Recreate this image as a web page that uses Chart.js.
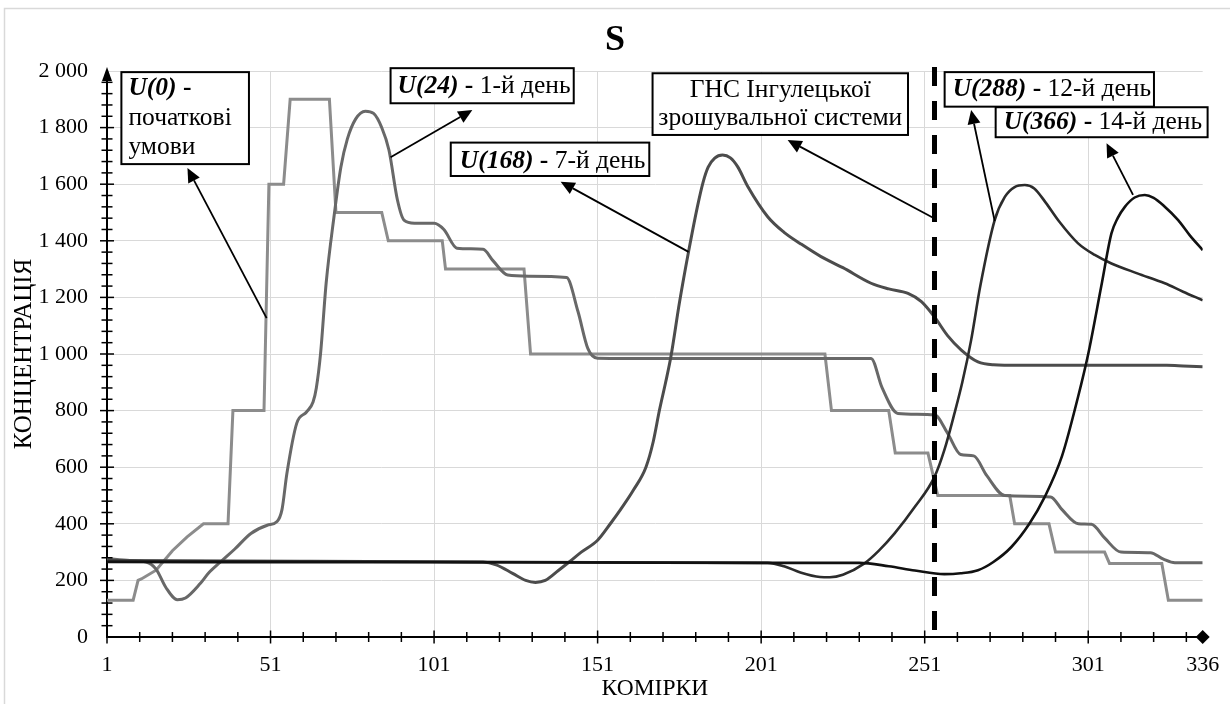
<!DOCTYPE html>
<html>
<head>
<meta charset="utf-8">
<script src="https://cdn.jsdelivr.net/npm/chart.js@4.4.1/dist/chart.umd.min.js"></script>
<style>
  html, body { margin: 0; padding: 0; background: #fff; }
  #wrap { position: relative; width: 1230px; height: 704px; }
</style>
</head>
<body>
<div id="wrap"><canvas id="chart" width="1230" height="704"></canvas></div>
<script>
// cells (x) and concentration (y)
var u0Cells = [1, 9, 10.5, 11.5, 16, 21, 25.5, 30.5, 38, 39.5, 49, 50.5, 55, 57, 69, 71, 85, 87, 103.5, 104.5, 128.5, 130.5, 220.5, 222.5, 240, 242, 252, 255, 277, 278.5, 289, 291, 306, 307.5, 323.5, 325.5, 336];
var u0Values = [130, 130, 200, 205, 236, 305, 354, 400, 400, 800, 800, 1600, 1600, 1900, 1900, 1500, 1500, 1400, 1400, 1300, 1300, 1000, 1000, 800, 800, 650, 650, 500, 500, 400, 400, 300, 300, 260, 260, 130, 130];

var u24Cells = [1, 8, 13, 16, 19, 22.5, 25, 29.5, 32, 35.7, 40, 45, 50, 53, 54.5, 56, 59, 62, 64, 65, 66.3, 68, 70.4, 72.5, 74.5, 77, 80, 82.5, 85, 87.2, 89.8, 91.8, 95, 101, 104, 108, 116, 119, 123.5, 130, 141.5, 145, 148, 151, 160, 234.6, 238, 242.8, 254, 258, 262, 266, 270, 275.5, 289.5, 293, 298, 302, 306, 311, 320, 324, 327.5, 336];
var u24Values = [277, 270, 265, 240, 175, 132, 138, 189, 225, 265, 310, 366, 395, 408, 450, 578, 755, 795, 830, 880, 1002, 1250, 1485, 1660, 1760, 1830, 1858, 1850, 1800, 1721, 1544, 1473, 1462, 1462, 1440, 1374, 1370, 1330, 1279, 1275, 1270, 1150, 1020, 985, 984, 984, 880, 790, 785, 720, 645, 640, 570, 500, 495, 450, 400, 398, 350, 300, 298, 275, 262, 262];

var u168Cells = [1, 60, 116, 120, 125, 129, 132, 135, 139, 142.3, 146, 151, 155, 158, 162, 165.8, 168, 169.9, 171.8, 173.4, 176, 178.8, 181.5, 183.2, 184.8, 186.8, 189.2, 191.6, 193.8, 197, 203, 208, 213, 219.3, 226, 234.6, 240, 245.9, 250, 254, 258, 262.2, 267.3, 272, 280, 325, 330, 336];
var u168Values = [270, 268, 265, 255, 225, 200, 193, 200, 235, 265, 300, 342, 402, 450, 520, 601, 690, 801, 900, 990, 1180, 1361, 1520, 1605, 1660, 1692, 1703, 1693, 1662, 1590, 1485, 1430, 1390, 1344, 1305, 1250, 1230, 1214, 1185, 1131, 1065, 1014, 972, 962, 960, 960, 958, 955];

var u288Cells = [1, 100, 203, 208, 213, 219, 222, 226, 232.6, 237, 241.8, 248, 254, 257, 260.1, 262.5, 265.2, 268, 272.4, 275.5, 278.5, 281.6, 284.5, 288, 292, 297.9, 303, 308.1, 316, 324.4, 330, 336];
var u288Values = [268, 266, 262, 250, 228, 212, 211, 220, 260, 305, 366, 460, 566, 660, 790, 900, 1049, 1240, 1473, 1555, 1590, 1597, 1585, 1535, 1470, 1391, 1350, 1320, 1285, 1250, 1220, 1190];

var u366Cells = [1, 100, 200, 231, 240, 248, 257, 262, 267.3, 272, 277.5, 283, 287.7, 293, 297.9, 301, 305, 308.1, 310, 312.2, 315.2, 318.3, 321, 324, 328.5, 332, 336];
var u366Values = [265, 264, 262, 262, 250, 235, 222, 225, 236, 265, 318, 400, 495, 640, 849, 1000, 1240, 1426, 1480, 1520, 1553, 1562, 1552, 1525, 1473, 1420, 1367];

var xTickLabels = [1, 51, 101, 151, 201, 251, 301, 336];
var gnsCell = 254;   // ГНС Інгулецької зрошувальної системи

var serif = '"Liberation Serif", "Times New Roman", serif';

function pts(cells, values) {
  return cells.map(function(c, i) { return { x: c, y: values[i] }; });
}

function fmtThousands(v) {
  if (v < 1000) return String(v);
  var r = String(v % 1000);
  while (r.length < 3) r = '0' + r;
  return Math.floor(v / 1000) + ' ' + r;
}

// callouts, anchored in data units (cell, concentration)
var callouts = [
  { box: [5.4, 44.4, 1996, 1671], first: 23, gap: 29.5, padX: 7,
    lines: [[{ t: 'U(0)', b: 1, i: 1 }, { t: ' -', b: 1 }], [{ t: 'початкові' }], [{ t: 'умови' }]],
    arrow: [49.8, 1127, 25.6, 1657] },
  { box: [87.7, 143.7, 2010, 1886], first: 25, gap: 0, padX: 7,
    lines: [[{ t: 'U(24)', b: 1, i: 1 }, { t: ' - ', b: 1 }, { t: '1-й день' }]],
    arrow: [87.7, 1695, 112.7, 1862] },
  { box: [106.1, 166.8, 1747, 1629], first: 25, gap: 0, padX: 9,
    lines: [[{ t: 'U(168)', b: 1, i: 1 }, { t: ' - ', b: 1 }, { t: '7-й день' }]],
    arrow: [178.8, 1361, 139.7, 1609] },
  { box: [167.8, 245.9, 1992, 1774], first: 24, gap: 28, center: true,
    lines: [[{ t: 'ГНС Інгулецької' }], [{ t: 'зрошувальної системи' }]],
    arrow: [254, 1479, 209.1, 1756] },
  { box: [257.1, 321.1, 1996, 1874], first: 24, gap: 0, padX: 8,
    lines: [[{ t: 'U(288)', b: 1, i: 1 }, { t: ' - ', b: 1 }, { t: '12-й день' }]],
    arrow: [272.4, 1470, 265.2, 1862] },
  { box: [272.7, 337.5, 1872, 1766], first: 22, gap: 0, padX: 8,
    lines: [[{ t: 'U(366)', b: 1, i: 1 }, { t: ' - ', b: 1 }, { t: '14-й день' }]],
    arrow: [314.7, 1562, 306.6, 1745] }
];

function runFont(r) {
  return (r.i ? 'italic ' : '') + (r.b ? 'bold ' : '') + '25.5px ' + serif;
}

function arrowTo(ctx, x0, y0, x1, y1) {
  var a = Math.atan2(y1 - y0, x1 - x0), len = 14, hw = 6.5;
  var bx = x1 - len * Math.cos(a), by = y1 - len * Math.sin(a);
  ctx.beginPath();
  ctx.moveTo(x0, y0);
  ctx.lineTo(bx, by);
  ctx.stroke();
  ctx.beginPath();
  ctx.moveTo(x1, y1);
  ctx.lineTo(bx + hw * Math.sin(a), by - hw * Math.cos(a));
  ctx.lineTo(bx - hw * Math.sin(a), by + hw * Math.cos(a));
  ctx.closePath();
  ctx.fill();
}

var decor = {
  id: 'decor',
  beforeDraw: function(chart) {
    var ctx = chart.ctx;
    ctx.save();
    ctx.fillStyle = '#fff';
    ctx.fillRect(0, 0, chart.width, chart.height);
    ctx.strokeStyle = '#d9d9d9';
    ctx.lineWidth = 1.5;
    ctx.strokeRect(4.5, 8.5, chart.width + 20, chart.height + 20);
    ctx.restore();
  },
  afterDatasetsDraw: function(chart) {
    var ctx = chart.ctx, xs = chart.scales.x, ys = chart.scales.y, area = chart.chartArea;
    var xl = area.left, yb = area.bottom;
    ctx.save();
    ctx.strokeStyle = '#000';
    ctx.fillStyle = '#000';
    ctx.lineWidth = 1.5;
    // tick marks on the category axis, every 10 cells
    for (var c = 1; c < 336; c += 10) {
      var px = xs.getPixelForValue(c);
      var h = (c - 1) % 50 === 0 ? 6.5 : 5;
      ctx.beginPath(); ctx.moveTo(px, yb - h); ctx.lineTo(px, yb + h); ctx.stroke();
    }
    // tick marks on the value axis, every 40
    for (var v = 40; v < 2000; v += 40) {
      var py = ys.getPixelForValue(v);
      var w = v % 200 === 0 ? 7 : 5.5;
      ctx.beginPath(); ctx.moveTo(xl - w, py); ctx.lineTo(xl + w, py); ctx.stroke();
    }
    // arrow at the top of the value axis
    var yt = ys.getPixelForValue(2000);
    ctx.beginPath();
    ctx.moveTo(xl, yt - 4);
    ctx.lineTo(xl - 5, yt + 10);
    ctx.lineTo(xl + 5, yt + 10);
    ctx.closePath();
    ctx.fill();
    // diamond at the end of the category axis
    var xr = xs.getPixelForValue(336);
    ctx.beginPath();
    ctx.moveTo(xr - 7, yb); ctx.lineTo(xr, yb - 7); ctx.lineTo(xr + 7, yb); ctx.lineTo(xr, yb + 7);
    ctx.closePath();
    ctx.fill();
    // dashed line of the pumping station
    var xg = xs.getPixelForValue(gnsCell);
    ctx.lineWidth = 5;
    ctx.setLineDash([19, 15]);
    ctx.beginPath(); ctx.moveTo(xg, yt - 4); ctx.lineTo(xg, yb); ctx.stroke();
    ctx.restore();
  },
  afterDraw: function(chart) {
    var ctx = chart.ctx, xs = chart.scales.x, ys = chart.scales.y;
    ctx.save();
    callouts.forEach(function(co) {
      var a = co.arrow;
      ctx.strokeStyle = '#000';
      ctx.fillStyle = '#000';
      ctx.lineWidth = 1.8;
      arrowTo(ctx, xs.getPixelForValue(a[0]), ys.getPixelForValue(a[1]),
                   xs.getPixelForValue(a[2]), ys.getPixelForValue(a[3]));
      var x0 = xs.getPixelForValue(co.box[0]), x1 = xs.getPixelForValue(co.box[1]);
      var y0 = ys.getPixelForValue(co.box[2]), y1 = ys.getPixelForValue(co.box[3]);
      ctx.fillStyle = '#fff';
      ctx.fillRect(x0, y0, x1 - x0, y1 - y0);
      ctx.lineWidth = 2;
      ctx.strokeRect(x0, y0, x1 - x0, y1 - y0);
      ctx.fillStyle = '#000';
      ctx.textBaseline = 'alphabetic';
      ctx.textAlign = 'left';
      co.lines.forEach(function(runs, li) {
        var total = 0;
        runs.forEach(function(r) { ctx.font = runFont(r); total += ctx.measureText(r.t).width; });
        var tx = co.center ? (x0 + x1) / 2 - total / 2 : x0 + co.padX;
        var ty = y0 + co.first + li * co.gap;
        runs.forEach(function(r) {
          ctx.font = runFont(r);
          ctx.fillText(r.t, tx, ty);
          tx += ctx.measureText(r.t).width;
        });
      });
    });
    ctx.restore();
  }
};

var lineBase = { pointRadius: 0, fill: false, cubicInterpolationMode: 'monotone' };

new Chart(document.getElementById('chart'), {
  type: 'line',
  data: {
    datasets: [
      Object.assign({}, lineBase, { label: 'U(0)', data: pts(u0Cells, u0Values), borderColor: '#8c8c8c', borderWidth: 3, cubicInterpolationMode: 'default', tension: 0, order: 5 }),
      Object.assign({}, lineBase, { label: 'U(24)', data: pts(u24Cells, u24Values), borderColor: '#686868', borderWidth: 3, order: 4 }),
      Object.assign({}, lineBase, { label: 'U(168)', data: pts(u168Cells, u168Values), borderColor: '#4c4c4c', borderWidth: 3, order: 3 }),
      Object.assign({}, lineBase, { label: 'U(288)', data: pts(u288Cells, u288Values), borderColor: '#2c2c2c', borderWidth: 2.6, order: 2 }),
      Object.assign({}, lineBase, { label: 'U(366)', data: pts(u366Cells, u366Values), borderColor: '#111111', borderWidth: 2.6, order: 1 })
    ]
  },
  options: {
    responsive: false,
    animation: false,
    layout: { padding: 0 },
    plugins: {
      legend: { display: false },
      tooltip: { enabled: false },
      title: {
        display: true, text: 'S', color: '#000',
        font: { family: serif, size: 36, weight: 'bold' },
        padding: { top: 19.4, bottom: 8.4 }
      }
    },
    scales: {
      x: {
        type: 'linear', min: 1, max: 336,
        afterBuildTicks: function(scale) {
          scale.ticks = xTickLabels.map(function(v) { return { value: v }; });
        },
        afterFit: function(scale) {
          scale.height = 67;
          scale.paddingRight = 27.3;
          scale.paddingLeft = 0;
        },
        grid: {
          color: function(ctx) { return ctx.tick && ctx.tick.value === 336 ? 'rgba(0,0,0,0)' : '#d9d9d9'; },
          lineWidth: 1, drawTicks: false
        },
        border: { color: '#000', width: 2 },
        ticks: {
          color: '#000', padding: 15, maxRotation: 0, autoSkip: false,
          font: { family: serif, size: 22 },
          callback: function(v) { return String(v); }
        },
        title: {
          display: true, text: 'КОМІРКИ', color: '#000',
          font: { family: serif, size: 23.5 },
          padding: { top: 0, bottom: 1 }
        }
      },
      y: {
        min: 0, max: 2000,
        afterFit: function(scale) { scale.width = 107; },
        grid: { color: '#d9d9d9', lineWidth: 1, drawTicks: false },
        border: { color: '#000', width: 2 },
        ticks: {
          stepSize: 200, color: '#000', padding: 19,
          font: { family: serif, size: 22 },
          callback: function(v) { return fmtThousands(v); }
        },
        title: {
          display: true, text: 'КОНЦЕНТРАЦІЯ', color: '#000',
          font: { family: serif, size: 25 },
          padding: { top: 9, bottom: 0 }
        }
      }
    }
  },
  plugins: [decor]
});
</script>
</body>
</html>
